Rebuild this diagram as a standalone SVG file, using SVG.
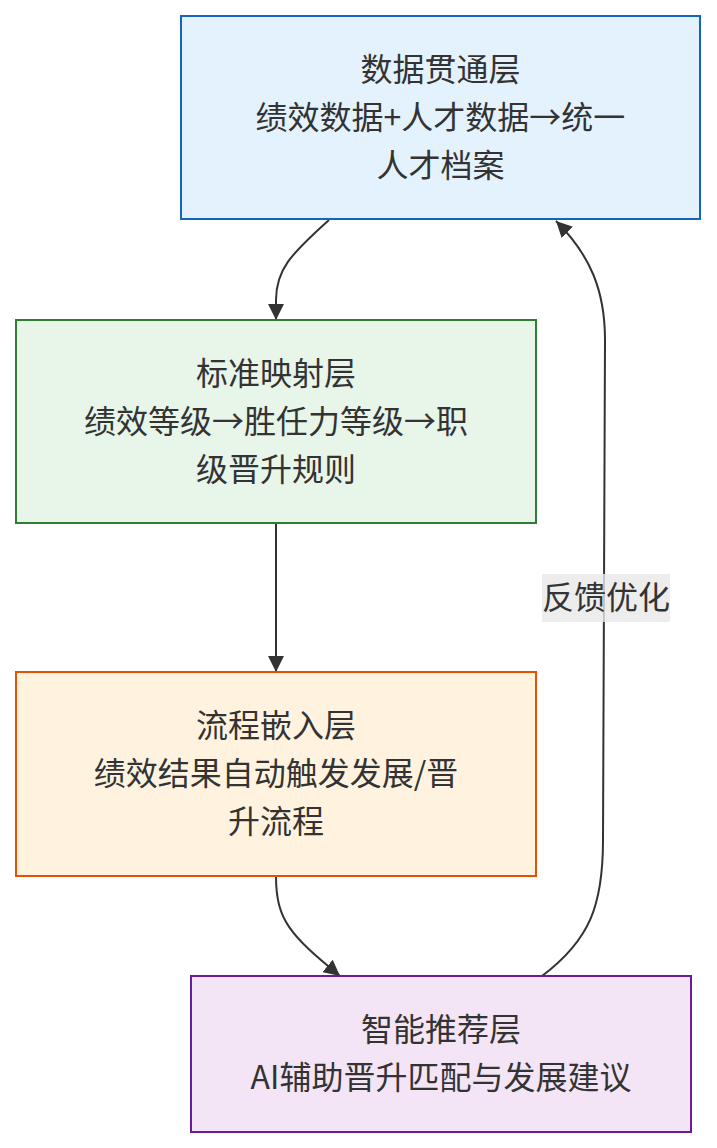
<svg xmlns="http://www.w3.org/2000/svg" width="717" height="1148" viewBox="0 0 717 1148">
<style>
.t{font-family:"Noto Sans CJK SC","Noto Sans",sans-serif;font-size:32px;fill:#333;text-anchor:middle}
.e{fill:none;stroke:#333;stroke-width:2}
</style>
<defs>
<marker id="ah" viewBox="0 0 10 10" refX="10" refY="5" markerWidth="16" markerHeight="16" markerUnits="userSpaceOnUse" orient="auto">
<path d="M0,0 L10,5 L0,10 z" fill="#333"/>
</marker>
</defs>
<rect width="717" height="1148" fill="#fff"/>
<g id="connectors">
<path class="e" d="M329,220 C290,255 276,270 276,300 L276,320" marker-end="url(#ah)"/>
<path class="e" d="M276,523 L276,672" marker-end="url(#ah)"/>
<path class="e" d="M276,876 C276,920 290,935 340,976" marker-end="url(#ah)"/>
<path class="e" d="M542,976 C590,940 603,905 603,840 L605,340 C605,290 590,255 556,221" marker-end="url(#ah)"/>
</g>
<g id="n1">
<rect x="181" y="16" width="519" height="203" fill="#e3f2fd" stroke="#1565c0" stroke-width="2"/>
<text class="t" x="440.5" y="81">数据贯通层</text>
<text class="t" x="440.5" y="129">绩效数据+人才数据→统一</text>
<text class="t" x="440.5" y="177">人才档案</text>
</g>
<g id="n2">
<rect x="16" y="320" width="520" height="203" fill="#e8f5e9" stroke="#2e7d32" stroke-width="2"/>
<text class="t" x="276" y="385">标准映射层</text>
<text class="t" x="276" y="433">绩效等级→胜任力等级→职</text>
<text class="t" x="276" y="481">级晋升规则</text>
</g>
<g id="n3">
<rect x="16" y="672" width="520" height="204" fill="#fff3e0" stroke="#e65100" stroke-width="2"/>
<text class="t" x="276" y="737">流程嵌入层</text>
<text class="t" x="276" y="785">绩效结果自动触发发展/晋</text>
<text class="t" x="276" y="833">升流程</text>
</g>
<g id="n4">
<rect x="191" y="976" width="500" height="156" fill="#f3e5f5" stroke="#6a1b9a" stroke-width="2"/>
<text class="t" x="441" y="1041">智能推荐层</text>
<text class="t" x="441" y="1089">AI辅助晋升匹配与发展建议</text>
</g>
<g id="label">
<rect x="542" y="574" width="128" height="48" fill="#e8e8e8" fill-opacity="0.8"/>
<text class="t" x="606" y="609">反馈优化</text>
</g>
</svg>
